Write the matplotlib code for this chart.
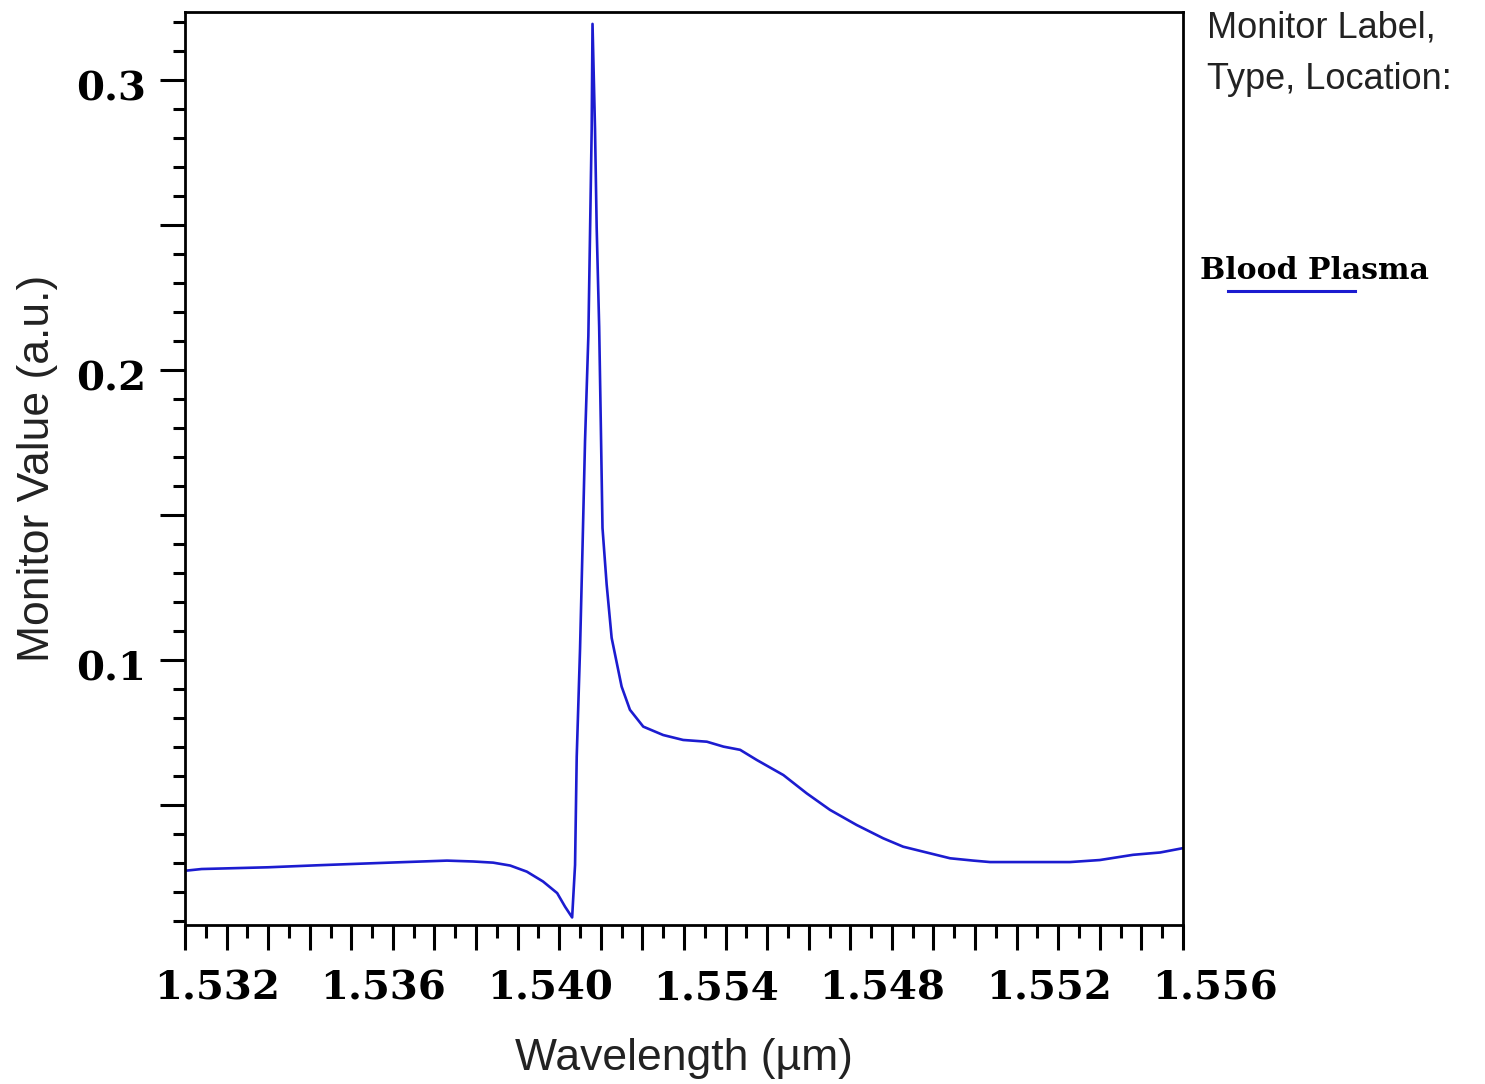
import numpy as np
import matplotlib
matplotlib.use("Agg")
import matplotlib.pyplot as plt
from matplotlib.ticker import FixedLocator, FixedFormatter, MultipleLocator
from matplotlib.transforms import ScaledTranslation
from matplotlib.lines import Line2D

# 数据
wavelength = [1.53200, 1.53240, 1.53400, 1.53520, 1.53614, 1.53710, 1.53830, 1.53893,
              1.53941, 1.53982, 1.54022, 1.54061, 1.54095, 1.54114, 1.54131, 1.54138,
              1.54142, 1.54150, 1.54156, 1.54162, 1.54170, 1.54174, 1.54178, 1.54180,
              1.54186, 1.54190, 1.54196, 1.54200, 1.54204, 1.54214, 1.54226, 1.54250,
              1.54270, 1.54302, 1.54350, 1.54398, 1.54455, 1.54495, 1.54535, 1.54575,
              1.54639, 1.54695, 1.54751, 1.54815, 1.54879, 1.54927, 1.54975, 1.55040,
              1.55096, 1.55136, 1.55328, 1.55400, 1.55480, 1.55545, 1.55600]
monitor_value = [0.0273, 0.0279, 0.0285, 0.0292, 0.0297, 0.0302, 0.0308, 0.0305,
                 0.0301, 0.0291, 0.0270, 0.0236, 0.0196, 0.0149, 0.0112, 0.0293,
                 0.0666, 0.1038, 0.1390, 0.1755, 0.2117, 0.2469, 0.2831, 0.3193,
                 0.2831, 0.2490, 0.2148, 0.1807, 0.1455, 0.1260, 0.1076, 0.0908,
                 0.0828, 0.0770, 0.0741, 0.0724, 0.0718, 0.0701, 0.0690, 0.0655,
                 0.0603, 0.0540, 0.0483, 0.0431, 0.0385, 0.0356, 0.0339, 0.0316,
                 0.0308, 0.0303, 0.0303, 0.0310, 0.0328, 0.0336, 0.0351]

x_label_pos = [1.532, 1.536, 1.540, 1.544, 1.548, 1.552, 1.556]
x_label_text = ["1.532", "1.536", "1.540", "1.554", "1.548", "1.552", "1.556"]
y_label_pos = [0.1, 0.2, 0.3]
y_label_text = ["0.1", "0.2", "0.3"]
series_name = "Blood Plasma"

line_color = "#1c1cd0"
tick_font = {"family": "DejaVu Serif", "weight": "bold", "size": 29}

fig = plt.figure(figsize=(14.85, 10.84), dpi=100)
ax = fig.add_axes([185 / 1485, 1 - 925 / 1084, (1183 - 185) / 1485, (925 - 12) / 1084])

ax.plot(wavelength, monitor_value, color=line_color, linewidth=1.9)
ax.set_xlim(1.532, 1.556)
ax.set_ylim(0.0086, 0.3234)

# x 轴刻度: 长刻度每 0.001, 短刻度每 0.0005, 标签每 0.004
xmajor = np.round(np.arange(1.532, 1.55601, 0.001), 4)
xlabels = []
for v in xmajor:
    s = ""
    for p, t in zip(x_label_pos, x_label_text):
        if abs(v - p) < 1e-7:
            s = t
    xlabels.append(s)
ax.xaxis.set_major_locator(FixedLocator(xmajor))
ax.xaxis.set_major_formatter(FixedFormatter(xlabels))
ax.xaxis.set_minor_locator(MultipleLocator(0.0005))

# y 轴刻度: 长刻度每 0.05, 短刻度每 0.01
ymajor = np.round(np.arange(0.05, 0.3001, 0.05), 3)
ylabels = []
for v in ymajor:
    s = ""
    for p, t in zip(y_label_pos, y_label_text):
        if abs(v - p) < 1e-7:
            s = t
    ylabels.append(s)
ax.yaxis.set_major_locator(FixedLocator(ymajor))
ax.yaxis.set_major_formatter(FixedFormatter(ylabels))
ax.yaxis.set_minor_locator(MultipleLocator(0.01))

ax.tick_params(which="major", direction="out", length=18, width=2.2, pad=12)
ax.tick_params(which="minor", direction="out", length=9, width=2.2)
for sp in ax.spines.values():
    sp.set_linewidth(2.0)

for lab in ax.get_xticklabels():
    lab.set_fontproperties(tick_font)
    lab.set_transform(lab.get_transform() + ScaledTranslation(0.32, -0.03, fig.dpi_scale_trans))
for lab in ax.get_yticklabels():
    lab.set_fontproperties(tick_font)
    lab.set_transform(lab.get_transform() + ScaledTranslation(0.03, -0.06, fig.dpi_scale_trans))

ax.set_xlabel("Wavelength (µm)", fontsize=32, family="Liberation Sans", color="#222222", labelpad=22)
ax.set_ylabel("Monitor Value (a.u.)", fontsize=32, family="Liberation Sans", color="#222222", labelpad=13)

# 右侧图例
fig.text(1207 / 1485, 1 - 10 / 1084, "Monitor Label,\nType, Location:", fontsize=26,
         family="Liberation Sans", color="#222222", va="top", ha="left", linespacing=1.62)
fig.text(1200 / 1485, 1 - 270 / 1084, series_name, fontsize=21.5, family="DejaVu Serif",
         weight="bold", va="center", ha="left")
fig.add_artist(Line2D([1228 / 1485, 1355 / 1485], [1 - 291 / 1084, 1 - 291 / 1084],
                      transform=fig.transFigure, color=line_color, linewidth=2.2))

plt.savefig("out.png", dpi=100)
